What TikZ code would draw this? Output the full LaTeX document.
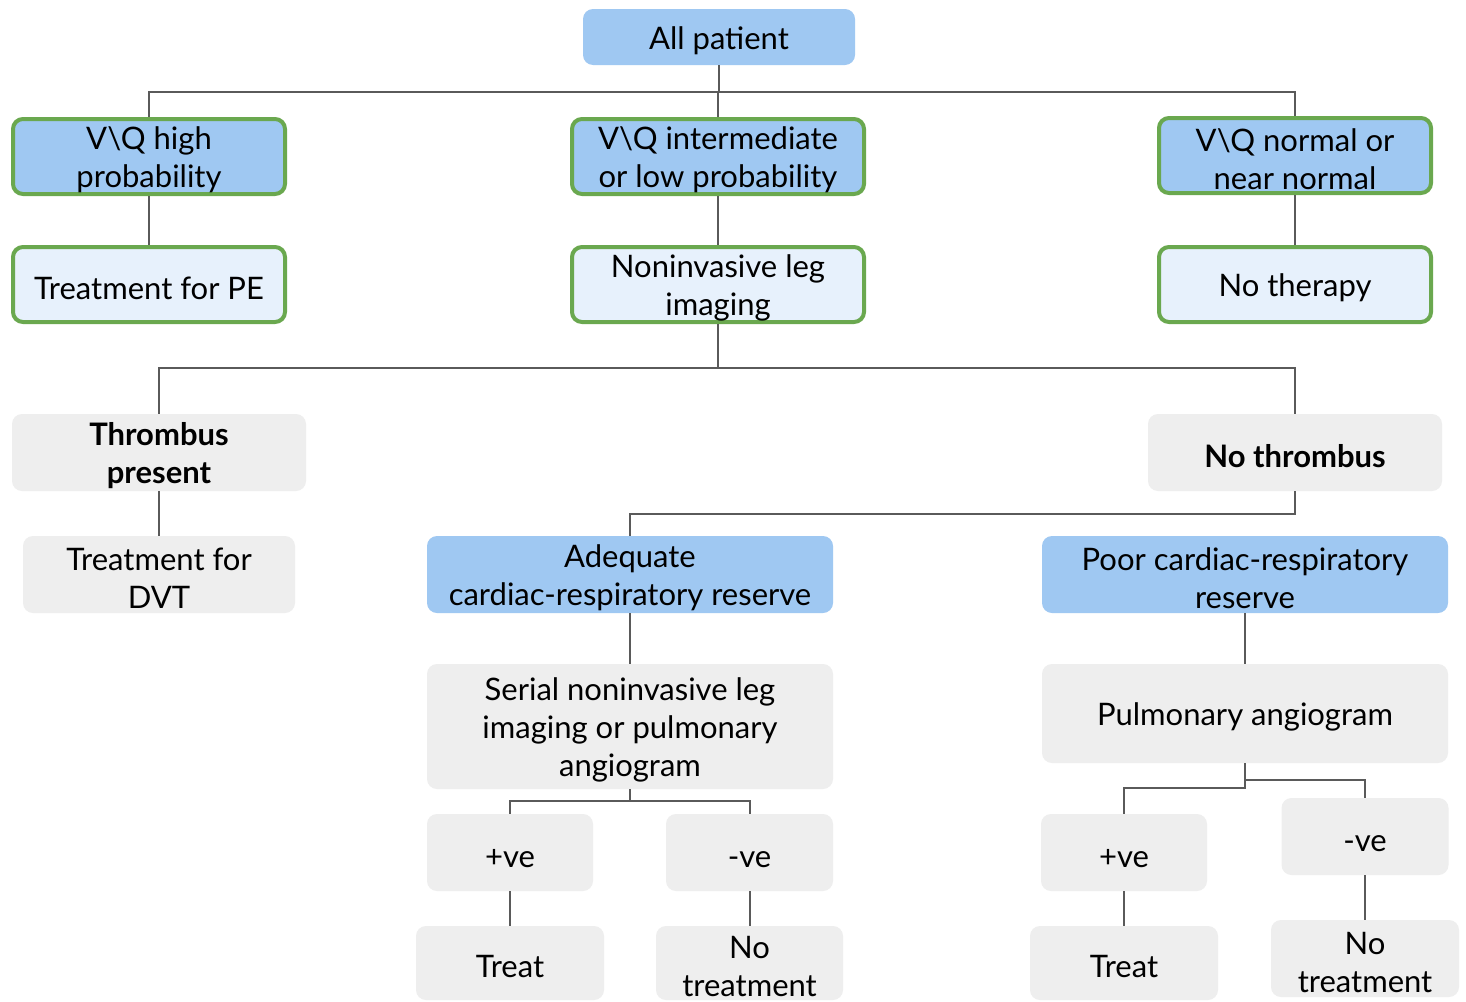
\documentclass[tikz,border=0pt]{standalone}
\usepackage{fontspec}
\setmainfont{Lato}
\definecolor{bluefill}{HTML}{9FC8F2}
\definecolor{lightblue}{HTML}{E7F1FC}
\definecolor{greenedge}{HTML}{6AA84F}
\definecolor{grayfill}{HTML}{EEEEEE}
\definecolor{linecol}{HTML}{5A5A5A}
\newcommand{\topstrut}{\rule{0pt}{15pt}}
\tikzset{
  box/.style={rounded corners=5pt, align=center, inner sep=0pt, font=\fontsize{15.5}{19}\selectfont, text=black},
  bluebox/.style={box, fill=bluefill},
  bluegreen/.style={box, fill=bluefill, draw=greenedge, line width=2pt},
  lightgreen/.style={box, fill=lightblue, draw=greenedge, line width=2pt},
  graybox/.style={box, fill=grayfill},
  boldtext/.style={font=\fontsize{15.5}{19}\selectfont\bfseries},
  conn/.style={draw=linecol, line width=1pt},
  sz/.style 2 args={minimum width=#1*0.5pt, minimum height=#2*0.5pt},
}
\begin{document}
\begin{tikzpicture}[x=0.5pt,y=-0.5pt]
\useasboundingbox (0,0) rectangle (1466,1001);
\clip (0,0) rectangle (1466,1001);
\fill[white] (0,0) rectangle (1466,1001);
% nodes
\node[bluebox, sz={272}{56}] (allp) at (719,37) {\topstrut All patient};
\node[bluegreen, sz={272}{75}] (vqh) at (149,156.5) {\topstrut V\textbackslash Q high\\probability};
\node[bluegreen, sz={292}{75}] (vqi) at (718,156.5) {\topstrut V\textbackslash Q intermediate\\or low probability};
\node[bluegreen, sz={272}{75}] (vqn) at (1295,155.5) {\topstrut V\textbackslash Q normal or\\near normal};
\node[lightgreen, sz={272}{75}] (tpe) at (149,284.5) {\topstrut Treatment for PE};
\node[lightgreen, sz={292}{75}] (nli) at (718,284.5) {\topstrut Noninvasive leg\\imaging};
\node[lightgreen, sz={272}{75}] (nth) at (1295,284.5) {\topstrut No therapy};
\node[graybox, boldtext, sz={294}{77}] (thr) at (159,452.5) {\topstrut Thrombus\\present};
\node[graybox, boldtext, sz={294}{77}] (nothr) at (1295,452.5) {\topstrut No thrombus};
\node[graybox, sz={272}{77}] (tdvt) at (159,574.5) {\topstrut Treatment for\\DVT};
\node[bluebox, sz={406}{77}] (adq) at (630,574.5) {\topstrut Adequate\\cardiac-respiratory reserve};
\node[bluebox, sz={406}{77}] (poor) at (1245,574.5) {\topstrut Poor cardiac-respiratory\\reserve};
\node[graybox, sz={406}{125}] (ser) at (630,726.5) {\topstrut Serial noninvasive leg\\imaging or pulmonary\\angiogram};
\node[graybox, sz={406}{99}] (pulm) at (1245,713.5) {\topstrut Pulmonary angiogram};
\node[graybox, sz={166}{77}] (pveL) at (510,852.5) {\topstrut +ve};
\node[graybox, sz={167}{77}] (nveL) at (749.5,852.5) {\topstrut -ve};
\node[graybox, sz={188}{74}] (trL) at (510,963) {\topstrut Treat};
\node[graybox, sz={187}{74}] (ntL) at (749.5,963) {\topstrut No\\treatment};
\node[graybox, sz={166}{77}] (pveR) at (1124,852.5) {\topstrut +ve};
\node[graybox, sz={167}{77}] (nveR) at (1365,836.5) {\topstrut -ve};
\node[graybox, sz={188}{74}] (trR) at (1124,963) {\topstrut Treat};
\node[graybox, sz={188}{77}] (ntR) at (1365,958.5) {\topstrut No\\treatment};
% connectors
\draw[conn] (allp.south) -- (allp.south |- 0,92) -| (vqh.north);
\draw[conn] (allp.south) -- (allp.south |- 0,92) -| (vqn.north);
\draw[conn] (allp.south |- 0,92) -| (vqi.north);
\draw[conn] (vqh.south) -- (tpe.north);
\draw[conn] (vqi.south) -- (nli.north);
\draw[conn] (vqn.south) -- (nth.north);
\draw[conn] (nli.south) -- (nli.south |- 0,368) -| (thr.north);
\draw[conn] (nli.south |- 0,368) -| (nothr.north);
\draw[conn] (thr.south) -- (tdvt.north);
\draw[conn] (nothr.south) -- (nothr.south |- 0,514) -| (adq.north);
\draw[conn] (adq.south) -- (ser.north);
\draw[conn] (poor.south) -- (pulm.north);
\draw[conn] (ser.south) -- (ser.south |- 0,801) -| (pveL.north);
\draw[conn] (ser.south |- 0,801) -| (nveL.north);
\draw[conn] (pveL.south) -- (trL.north);
\draw[conn] (nveL.south) -- (ntL.north);
\draw[conn] (pulm.south) -- (pulm.south |- 0,788) -| (pveR.north);
\draw[conn] (pulm.south |- 0,780) -| (nveR.north);
\draw[conn] (pveR.south) -- (trR.north);
\draw[conn] (nveR.south) -- (ntR.north);
\end{tikzpicture}
\end{document}
